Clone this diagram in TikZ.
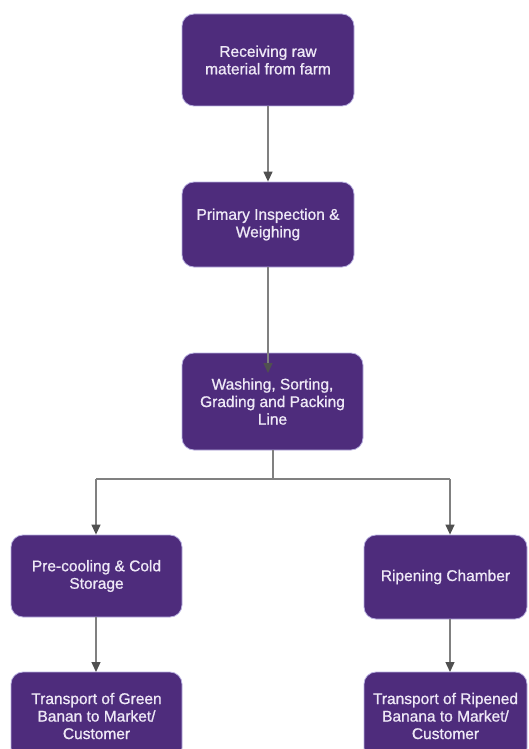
\documentclass[tikz,border=0pt]{standalone}
\usepackage{fontspec}
\setmainfont{Liberation Sans}
\newfontfamily\boxfont[FakeBold=0.9]{Liberation Sans}
\usetikzlibrary{arrows.meta}
\definecolor{boxfill}{HTML}{4E2C7C}
\definecolor{boxedge}{HTML}{B8B0E0}
\definecolor{boxtext}{HTML}{EEE8F6}
\definecolor{linegray}{HTML}{808080}
\definecolor{tipgray}{HTML}{505050}
\begin{document}
\begin{tikzpicture}[x=1pt,y=-1pt,
  box/.style={draw=boxedge, line width=0.8pt, fill=boxfill, rounded corners=12pt,
    text=boxtext, align=center, inner sep=2pt,
    font=\boxfont\fontsize{15.5}{17.5}\selectfont},
  conn/.style={draw=linegray, line width=1.3pt,
    -{Triangle[length=10pt,width=9pt,fill=tipgray,color=tipgray]}},
  plain/.style={draw=linegray, line width=1.3pt}]
\useasboundingbox (0,0) rectangle (528,749);
\fill[white] (0,0) rectangle (528,749);
\node[box, minimum width=172pt, minimum height=92pt] (A) at (268,60) {Receiving raw\\material from farm};
\node[box, minimum width=172pt, minimum height=85pt] (B) at (268,224.5) {Primary Inspection \&\\Weighing};
\node[box, minimum width=181pt, minimum height=97pt] (C) at (272.5,401.5) {Washing, Sorting,\\Grading and Packing\\Line};
\node[box, minimum width=171pt, minimum height=82pt] (D) at (96.5,576) {Pre-cooling \& Cold\\Storage};
\node[box, minimum width=163pt, minimum height=84pt] (E) at (445.5,577) {Ripening Chamber};
\node[box, minimum width=171pt, minimum height=88pt] (F) at (96.5,716) {Transport of Green\\Banan to Market/\\Customer};
\node[box, minimum width=163pt, minimum height=88pt] (G) at (445.5,716) {Transport of Ripened\\Banana to Market/\\Customer};
\coordinate (Cin) at (268,373);
\coordinate (split) at (273,479);
\coordinate (lsplit) at (96,479);
\coordinate (rsplit) at (450,479);
\draw[conn] (A.south) -- (B.north);
\draw[conn] (268,267) -- (Cin);
\draw[plain] (split |- C.south) -- (split);
\draw[plain] (lsplit) -- (rsplit);
\draw[conn] (lsplit) -- (lsplit |- D.north);
\draw[conn] (rsplit) -- (rsplit |- E.north);
\draw[conn] (96,617) -- (96,672);
\draw[conn] (450,619) -- (450,672);
\end{tikzpicture}
\end{document}
